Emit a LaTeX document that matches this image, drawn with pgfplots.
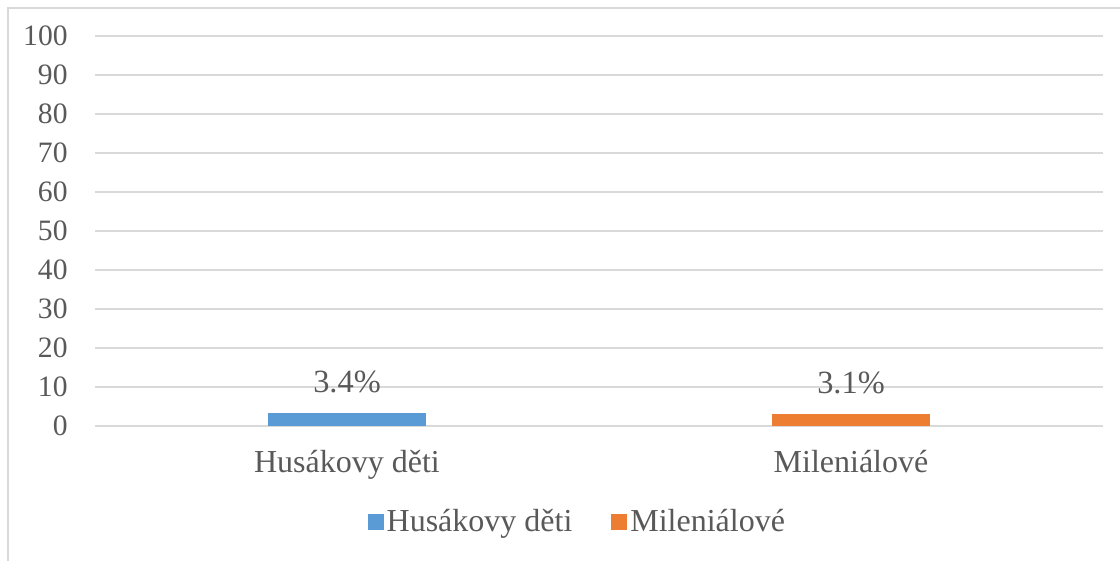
\documentclass[border=0pt]{standalone}
\usepackage{pgfplots}
\pgfplotsset{compat=1.18}
\usepackage{fontspec}
\setmainfont{Liberation Serif}
\definecolor{husak}{HTML}{5B9BD5}
\definecolor{milen}{HTML}{ED7D31}
\definecolor{txt}{HTML}{595959}
\definecolor{gridc}{HTML}{D9D9D9}
\begin{document}
\begin{tikzpicture}
\path[use as bounding box] (0,0) rectangle (560pt,280.5pt);
\draw[gridc,line width=0.8pt] (4pt,-2pt) -- (4pt,276.5pt) -- (562pt,276.5pt);
\begin{axis}[
  at={(47.5pt,67.5pt)}, anchor=south west,
  scale only axis, width=504pt, height=195pt,
  ybar, bar width=79pt, bar shift=0pt,
  xmin=-0.5, xmax=1.5, ymin=0, ymax=100,
  ytick={0,10,...,100},
  xtick={0,1}, xticklabels={Husákovy děti, Mileniálové},
  axis line style={draw=none},
  major tick length=0pt,
  ymajorgrids, grid style={gridc,line width=0.9pt},
  /pgf/number format/assume math mode=true,
  yticklabel style={font=\fontsize{14.8}{17}\selectfont, text=txt, inner sep=0pt, xshift=-13.5pt},
  xticklabel style={font=\fontsize{16}{19}\selectfont, text=txt, anchor=base, inner sep=0pt, yshift=-23.5pt},
  nodes near coords={\pgfmathprintnumber[fixed,precision=1,fixed zerofill]{\pgfplotspointmeta}\%},
  nodes near coords style={font=\fontsize{16.2}{19}\selectfont, text=txt, anchor=base, inner sep=0pt, yshift=10pt},
  legend columns=2,
  legend image code/.code={\fill[#1] (-3pt,-4pt) rectangle (5pt,4pt);},
  legend style={at={(0.479,-0.246)}, anchor=center, draw=none,
    font=\fontsize{16}{19}\selectfont, text=txt,
    nodes={inner sep=1.5pt},
    /tikz/every even column/.append style={column sep=18pt}},
]
\addplot[fill=husak, draw=none] coordinates {(0,3.4)};
\addplot[fill=milen, draw=none] coordinates {(1,3.1)};
\legend{Husákovy děti, Mileniálové}
\end{axis}
\end{tikzpicture}
\end{document}
